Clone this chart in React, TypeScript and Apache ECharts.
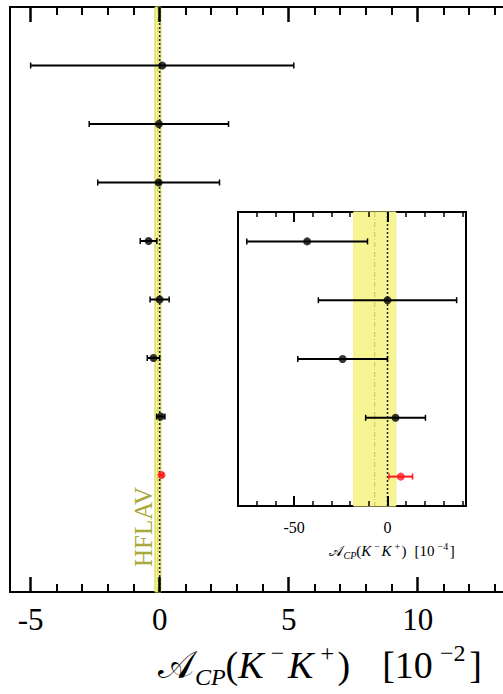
import React, { useEffect, useRef } from "react";
import * as echarts from "echarts";

// Measurements of A_CP(K-K+), in units of 10^-2 (top to bottom)
const measCenter = [0.1, -0.03, -0.04, -0.43, 0.0, -0.24, 0.043, 0.071];
const measError = [5.1, 2.7, 2.36, 0.323, 0.37, 0.24, 0.16, 0.063];
const measColor = ["#000000", "#000000", "#000000", "#000000", "#000000", "#000000", "#000000", "#ff1a1a"];
// HFLAV average (10^-2)
const hflavCenter = -0.068;
const hflavError = 0.113;
// inset shows measurements 4..8 in units of 10^-4
const insetFirst = 3;
const insetScale = 100;

const mainMajorTicks = [-5, 0, 5, 10];
const mainMinorTicks = [-4, -3, -2, -1, 1, 2, 3, 4, 6, 7, 8, 9, 11, 12, 13];
const insetMajorTicks = [-50, 0];
const insetMinorTicks = [-80, -70, -60, -40, -30, -20, -10, 10, 20, 30, 40];

const SERIF = "'Liberation Serif', 'DejaVu Serif', serif";

// layout of the two panels
const MAIN = { left: 10, top: 7, width: (14 + 5.8) * 25.8, height: 585, min: -5.8, max: 14 };
const INSET = { left: 238, top: 212, width: 228, height: 294, min: -80, max: 42 };

export default function App() {
  const ref = useRef<HTMLDivElement>(null);
  useEffect(() => {
    if (!ref.current) return;
    const chart = echarts.init(ref.current, null, { renderer: "svg" });

    const mainY = measCenter.map((_, i) => i + 1);
    const mainBars = measCenter.map((c, i) => [c - measError[i], c + measError[i], mainY[i]]);
    const mainPts = measCenter.map((c, i) => ({ value: [c, mainY[i]], itemStyle: { color: measColor[i] } }));

    const insC = measCenter.slice(insetFirst).map((v) => v * insetScale);
    const insE = measError.slice(insetFirst).map((v) => v * insetScale);
    const insCol = measColor.slice(insetFirst);
    const insBars = insC.map((c, i) => [c - insE[i], c + insE[i], i + 1]);
    const insPts = insC.map((c, i) => ({ value: [c, i + 1], itemStyle: { color: insCol[i] } }));

    const makeBarRender = (colors: string[], lw: number, cap: number) => (params: any, api: any) => {
      const y = api.value(2);
      const p1 = api.coord([api.value(0), y]);
      const p2 = api.coord([api.value(1), y]);
      const color = colors[params.dataIndex];
      return {
        type: "group",
        children: [
          { type: "line", shape: { x1: p1[0], y1: p1[1], x2: p2[0], y2: p2[1] }, style: { stroke: color, lineWidth: lw } },
          { type: "line", shape: { x1: p1[0], y1: p1[1] - cap, x2: p1[0], y2: p1[1] + cap }, style: { stroke: color, lineWidth: 1.5 } },
          { type: "line", shape: { x1: p2[0], y1: p2[1] - cap, x2: p2[0], y2: p2[1] + cap }, style: { stroke: color, lineWidth: 1.5 } },
        ],
      };
    };

    const makeBandRender = (stroke: string) => (params: any, api: any) => {
      const lo = api.value(0), hi = api.value(1), mid = api.value(2), zero = api.value(3);
      const cs = params.coordSys;
      const yv = api.value(4);
      const xl = api.coord([lo, yv])[0];
      const xh = api.coord([hi, yv])[0];
      const xm = api.coord([mid, yv])[0];
      const xz = api.coord([zero, yv])[0];
      const top = cs.y, bottom = cs.y + cs.height;
      return {
        type: "group",
        children: [
          { type: "rect", shape: { x: xl, y: top, width: xh - xl, height: bottom - top }, style: { fill: "#f7f593", stroke, lineWidth: 1 } },
          { type: "line", shape: { x1: xm, y1: top, x2: xm, y2: bottom }, style: { stroke: "#c8c64a", lineWidth: 1, lineDash: [5, 2, 1, 2] } },
          { type: "line", shape: { x1: xz, y1: top, x2: xz, y2: bottom }, style: { stroke: "#222", lineWidth: 1.5, lineDash: [2, 2] } },
        ],
      };
    };

    const frameAxis = (grid: number, pos: "top" | "bottom", min: number, max: number, labels: number[] | null, fontSize: number, margin: number) => ({
      type: "value",
      gridIndex: grid,
      position: pos,
      min,
      max,
      axisLine: { show: true, onZero: false, lineStyle: { color: "#000", width: 2 } },
      splitLine: { show: false },
      axisTick: { show: false },
      axisLabel: labels
        ? { show: true, customValues: labels, fontFamily: SERIF, fontSize, color: "#000", margin }
        : { show: false },
    });

    // tick-only axis living on a 1px helper grid, ticks drawn outside (towards the panel)
    const tickAxis = (grid: number, pos: "top" | "bottom", min: number, max: number, ticks: number[], len: number, width: number) => ({
      type: "value",
      gridIndex: grid,
      position: pos,
      min,
      max,
      z: 20,
      axisLine: { show: false, onZero: false },
      splitLine: { show: false },
      axisLabel: { show: false },
      axisTick: { show: true, inside: false, length: len, customValues: ticks, lineStyle: { color: "#000", width } },
    });

    const titleRich = (big: number, small: number, gap: number) => ({
      a: { fontSize: big, fontFamily: SERIF, lineHeight: big * 1.25, verticalAlign: "middle", padding: [0, big * 0.02, 0, 0] },
      s: { fontSize: small, fontFamily: SERIF, fontStyle: "italic", verticalAlign: "bottom", lineHeight: small * 1.1 },
      n: { fontSize: big, fontFamily: SERIF, lineHeight: big * 1.25, verticalAlign: "middle" },
      i: { fontSize: big, fontFamily: SERIF, fontStyle: "italic", lineHeight: big * 1.25, verticalAlign: "middle" },
      p: { fontSize: small, fontFamily: SERIF, verticalAlign: "top", lineHeight: small * 1.1, padding: [0, small * 0.15, 0, small * 0.3] },
      g: { fontSize: big, fontFamily: SERIF, lineHeight: big * 1.25, verticalAlign: "middle", padding: [0, gap, 0, 0] },
    });

    const yFrame = (grid: number, min: number, max: number) => ({
      type: "value",
      gridIndex: grid,
      min,
      max,
      inverse: true,
      position: "left",
      axisLine: { show: true, onZero: false, lineStyle: { color: "#000", width: 2 } },
      axisTick: { show: false },
      axisLabel: { show: false },
      splitLine: { show: false },
    });
    const yHidden = (grid: number) => ({ type: "value", gridIndex: grid, min: 0, max: 1, show: false });

    const helperGrid = (p: typeof MAIN, top: number) => ({ left: p.left, top, width: p.width, height: 1, show: false, containLabel: false, outerBoundsMode: "none" });

    const option: any = {
      animation: false,
      grid: [
        { left: MAIN.left, top: MAIN.top, width: MAIN.width, height: MAIN.height, show: true, borderColor: "#000", borderWidth: 2, backgroundColor: "transparent", containLabel: false, outerBoundsMode: "none" },
        { left: INSET.left, top: INSET.top, width: INSET.width, height: INSET.height, show: true, borderColor: "#000", borderWidth: 2, backgroundColor: "#fff", containLabel: false, outerBoundsMode: "none" },
        helperGrid(MAIN, MAIN.top + MAIN.height), // 2: main bottom edge (ticks go up)
        helperGrid(MAIN, MAIN.top - 1), // 3: main top edge (ticks go down)
        helperGrid(INSET, INSET.top + INSET.height), // 4: inset bottom edge
        helperGrid(INSET, INSET.top - 1), // 5: inset top edge
      ],
      xAxis: [
        frameAxis(0, "bottom", MAIN.min, MAIN.max, mainMajorTicks, 31, 12),
        frameAxis(0, "top", MAIN.min, MAIN.max, null, 0, 0),
        frameAxis(1, "bottom", INSET.min, INSET.max, insetMajorTicks, 16, 13),
        frameAxis(1, "top", INSET.min, INSET.max, null, 0, 0),
        tickAxis(2, "top", MAIN.min, MAIN.max, mainMajorTicks, 15, 2.5),
        tickAxis(2, "top", MAIN.min, MAIN.max, mainMinorTicks, 8, 2),
        tickAxis(3, "bottom", MAIN.min, MAIN.max, mainMajorTicks, 15, 2.5),
        tickAxis(3, "bottom", MAIN.min, MAIN.max, mainMinorTicks, 8, 2),
        tickAxis(4, "top", INSET.min, INSET.max, insetMajorTicks, 10, 2),
        tickAxis(4, "top", INSET.min, INSET.max, insetMinorTicks, 5, 1.5),
        tickAxis(5, "bottom", INSET.min, INSET.max, insetMajorTicks, 10, 2),
        tickAxis(5, "bottom", INSET.min, INSET.max, insetMinorTicks, 5, 1.5),
      ],
      yAxis: [yFrame(0, 0, 10), yFrame(1, 0.5, 5.5), yHidden(2), yHidden(3), yHidden(4), yHidden(5)],
      series: [
        {
          type: "custom",
          xAxisIndex: 0,
          yAxisIndex: 0,
          renderItem: makeBandRender("#d2d04a"),
          encode: { x: [0, 1, 2, 3], y: 4 },
          data: [[hflavCenter - hflavError, hflavCenter + hflavError, hflavCenter, 0, 5]],
          silent: true,
          clip: false,
          z: 1,
        },
        {
          type: "custom",
          xAxisIndex: 0,
          yAxisIndex: 0,
          renderItem: makeBarRender(measColor, 2, 3),
          encode: { x: [0, 1], y: 2 },
          data: mainBars,
          z: 3,
        },
        {
          type: "scatter",
          xAxisIndex: 0,
          yAxisIndex: 0,
          symbolSize: 8,
          data: mainPts,
          z: 4,
        },
        {
          type: "custom",
          xAxisIndex: 2,
          yAxisIndex: 1,
          renderItem: makeBandRender("#f2f08a"),
          encode: { x: [0, 1, 2, 3], y: 4 },
          data: [[(hflavCenter - hflavError) * insetScale, (hflavCenter + hflavError) * insetScale, hflavCenter * insetScale, 0, 3]],
          silent: true,
          clip: false,
          z: 5,
        },
        {
          type: "custom",
          xAxisIndex: 2,
          yAxisIndex: 1,
          renderItem: makeBarRender(insCol, 2, 3),
          encode: { x: [0, 1], y: 2 },
          data: insBars,
          z: 7,
        },
        {
          type: "scatter",
          xAxisIndex: 2,
          yAxisIndex: 1,
          symbolSize: 8,
          data: insPts,
          z: 8,
        },
      ],
      graphic: [
        {
          type: "text",
          x: 143,
          y: 527,
          rotation: Math.PI / 2,
          z: 10,
          style: { text: "HFLAV", fontSize: 25, fontFamily: SERIF, fill: "#a9a83a", align: "center", verticalAlign: "middle" },
        },
        {
          type: "text",
          x: 320,
          y: 665,
          z: 10,
          style: {
            text: "{a|𝒜}{s|CP}{n|(}{i|K}{p|−}{i|K}{p|+}{g|)}{n|[10}{p|−2}{n|]}",
            align: "center",
            verticalAlign: "middle",
            fill: "#000",
            rich: titleRich(38, 24, 32),
          },
        },
        {
          type: "text",
          x: 392,
          y: 551,
          z: 10,
          style: {
            text: "{a|𝒜}{s|CP}{n|(}{i|K}{p|−}{i|K}{p|+}{g|)}{n|[10}{p|−4}{n|]}",
            align: "center",
            verticalAlign: "middle",
            fill: "#000",
            rich: titleRich(15, 10, 8),
          },
        },
      ],
    };
    chart.setOption(option);
    return () => chart.dispose();
  }, []);

  return <div ref={ref} style={{ position: "absolute", left: 0, top: 0, width: 503, height: 694, background: "#fff" }} />;
}
